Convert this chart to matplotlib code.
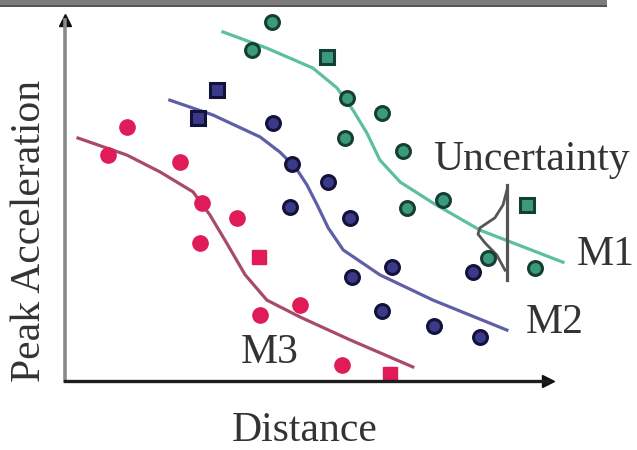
import matplotlib
matplotlib.use('Agg')
import matplotlib.pyplot as plt
from matplotlib.patches import Rectangle

# schematic units: distance and peak acceleration both on 0-100
m1_pts_x = [42.9, 38.7, 58.4, 65.6, 58.0, 70.0, 70.8, 78.3, 87.6, 97.3]
m1_pts_y = [99.4, 91.7, 78.4, 74.2, 67.3, 63.7, 47.9, 50.1, 34.1, 31.3]
m1_sq_x = [54.2, 95.7]
m1_sq_y = [89.8, 48.8]

m2_pts_x = [43.1, 47.0, 54.5, 46.6, 59.0, 59.4, 67.7, 84.5, 65.6, 76.4, 85.9]
m2_pts_y = [71.5, 60.1, 55.1, 48.2, 45.2, 28.8, 31.6, 30.2, 19.4, 15.2, 12.2]
m2_sq_x = [31.5, 27.5]
m2_sq_y = [80.6, 72.9]

m3_pts_x = [12.8, 8.9, 23.8, 28.4, 35.6, 28.0, 48.7, 40.4, 57.3]
m3_pts_y = [70.4, 62.6, 60.7, 49.3, 45.2, 38.2, 21.1, 18.3, 4.4]
m3_sq_x = [40.2, 67.3]
m3_sq_y = [34.3, 1.9]

# model curves
m1_x = [32.7, 41.8, 51.3, 56.3, 59.6, 62.5, 65.2, 69.4, 76.2, 85.9, 103.1]
m1_y = [96.7, 92.2, 86.7, 81.2, 75.1, 68.7, 61.2, 55.1, 49.3, 41.8, 32.9]
m2_x = [21.7, 30.6, 40.4, 44.5, 47.8, 50.1, 52.2, 54.5, 57.6, 65.2, 76.2, 91.5]
m2_y = [77.8, 73.7, 67.6, 63.4, 59.0, 54.3, 48.8, 42.4, 36.3, 29.4, 22.4, 14.1]
m3_x = [2.7, 12.8, 19.7, 26.5, 30.0, 33.7, 37.3, 41.8, 48.7, 59.0, 72.0]
m3_y = [67.3, 62.6, 57.9, 52.4, 46.0, 37.7, 29.4, 22.4, 17.7, 11.4, 3.9]

# uncertainty sketch around M1
unc_x = [91.5, 90.7, 89.0, 85.9, 85.5, 87.0, 89.4, 91.1]
unc_y = [52.9, 48.8, 45.2, 42.4, 40.7, 38.2, 34.9, 30.7]
unc_bar_x = 91.5
unc_bar_y = [54.3, 28.0]

W, H = 637, 450
fig = plt.figure(figsize=(W / 100, H / 100), dpi=100)
ax = fig.add_axes([65 / W, (H - 381) / H, 483 / W, 361 / H])
ax.set_xlim(0, 100)
ax.set_ylim(0, 100)
ax.set_xticks([])
ax.set_yticks([])
for s in ['top', 'right']:
    ax.spines[s].set_visible(False)
ax.spines['left'].set_color('#8a8a8a')
ax.spines['left'].set_linewidth(2.6)
ax.spines['bottom'].set_color('#1e1e1e')
ax.spines['bottom'].set_linewidth(2.4)
ax.patch.set_alpha(0)

# arrow heads
ax.plot([0], [1], marker='^', ms=9, color='#111111', transform=ax.transAxes, clip_on=False)
ax.plot([1], [0], marker='>', ms=9, color='#111111', transform=ax.transAxes, clip_on=False)

green_line = '#5cbfa0'
blue_line = '#5f5fa8'
red_line = '#a84a6a'

ax.plot(m1_x, m1_y, color=green_line, lw=2.3, clip_on=False)
ax.plot(m2_x, m2_y, color=blue_line, lw=2.3, clip_on=False)
ax.plot(m3_x, m3_y, color=red_line, lw=2.3, clip_on=False)

# uncertainty
ax.plot([unc_bar_x, unc_bar_x], unc_bar_y, color='#555555', lw=2.3, clip_on=False)
ax.plot(unc_x, unc_y, color='#555555', lw=2.0, clip_on=False)

# points
ax.plot(m1_pts_x, m1_pts_y, 'o', ms=10, mfc='#3c9a7c', mec='#163f33', mew=2.2, clip_on=False)
ax.plot(m1_sq_x, m1_sq_y, 's', ms=10, mfc='#3c9a7c', mec='#163f33', mew=2.2, clip_on=False)
ax.plot(m2_pts_x, m2_pts_y, 'o', ms=10, mfc='#3a3a88', mec='#12123a', mew=2.2, clip_on=False)
ax.plot(m2_sq_x, m2_sq_y, 's', ms=10, mfc='#3a3a88', mec='#12123a', mew=2.2, clip_on=False)
ax.plot(m3_pts_x, m3_pts_y, 'o', ms=11, mfc='#e01c58', mec='#e01c58', mew=1, clip_on=False)
ax.plot(m3_sq_x, m3_sq_y, 's', ms=10, mfc='#e01c58', mec='#e01c58', mew=1, clip_on=False)

font = dict(family='Liberation Serif', size=30, color='#333333')
ax.text(96.5, 58.4, 'Uncertainty', ha='center', va='baseline', **font)
fig.text(635 / W, 1 - 255 / H, 'M1', ha='right', va='center', **font)
ax.text(101.4, 16.1, 'M2', ha='center', va='center', **font)
ax.text(42.4, 7.8, 'M3', ha='center', va='center', **font)

fig.text(305 / W, 1 - 431 / H, 'Distance', ha='center', va='center', **font)
fig.text(30 / W, 1 - 231 / H, 'Peak Acceleration', ha='center', va='center', rotation=90, **font)

# grey frame edge along the top
fig.patches.append(Rectangle((0, 1 - 6 / H), 607 / W, 6 / H, transform=fig.transFigure,
                             facecolor='#7c7c7c', edgecolor='none'))
fig.patches.append(Rectangle((0, 1 - 7 / H), 607 / W, 2 / H, transform=fig.transFigure,
                             facecolor='#555555', edgecolor='none'))

fig.savefig('out.png', dpi=100)
